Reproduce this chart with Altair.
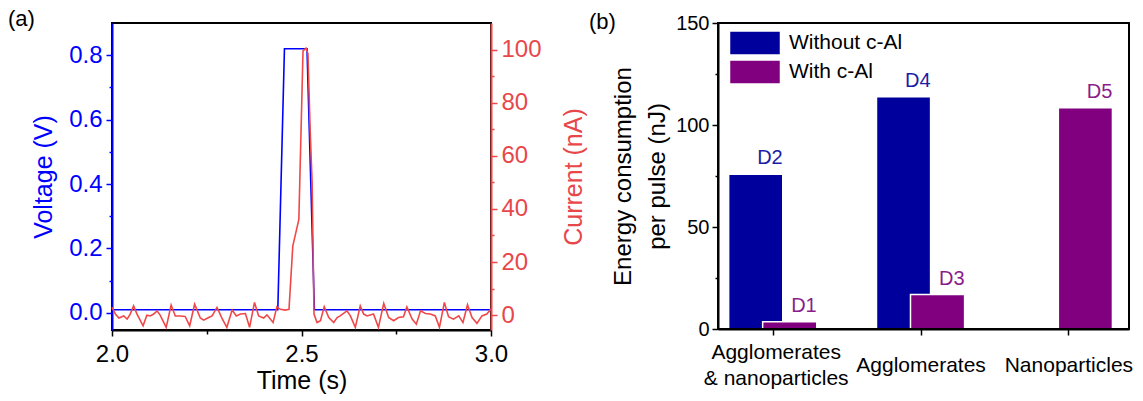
import altair as alt
import pandas as pd

F = "Liberation Sans"
BLUE = "#0000ff"
RED = "#f04848"
RED_TXT = "#e8474a"
NAVY = "#00009c"
PURPLE = "#800080"
NAVY_TXT = "#1c1ca6"
PURPLE_TXT = "#8b1c8b"

# ---------------- panel (a) data ----------------
volt_time = [2.0, 2.4375, 2.455, 2.5145, 2.534, 3.0]
volt_value = [0.01, 0.01, 0.82, 0.82, 0.01, 0.01]

curr_time = [2.000, 2.009, 2.018, 2.031, 2.040, 2.048, 2.057, 2.066, 2.082, 2.092,
             2.101, 2.110, 2.119, 2.127, 2.143, 2.156, 2.167, 2.180, 2.193, 2.205,
             2.218, 2.233, 2.242, 2.255, 2.264, 2.277, 2.290, 2.303, 2.317, 2.328,
             2.339, 2.352, 2.363, 2.376, 2.387, 2.400, 2.409, 2.425, 2.435, 2.444,
             2.457, 2.467, 2.477, 2.493, 2.504, 2.512, 2.517, 2.523, 2.528, 2.533,
             2.541, 2.550, 2.560, 2.572, 2.585, 2.594, 2.602, 2.620, 2.629, 2.642,
             2.655, 2.664, 2.673, 2.690, 2.703, 2.717, 2.730, 2.743, 2.756, 2.769,
             2.778, 2.792, 2.803, 2.814, 2.827, 2.840, 2.853, 2.864, 2.877, 2.888,
             2.901, 2.915, 2.926, 2.938, 2.950, 2.963, 2.976, 2.989, 3.000]
curr_value = [2.9, 0.4, -1.1, -0.3, -1.5, 0.4, 3.5, 0.4, -4.0, 0.0,
              -0.3, 0.4, 1.6, 0.0, -4.6, 3.8, -0.3, -0.3, -0.5, -4.0,
              4.1, -1.1, -1.9, -0.9, -0.3, 2.9, -1.1, -4.6, 1.9, -0.3,
              0.4, 0.6, -4.6, 4.8, -0.3, -1.1, 0.1, -2.8, 3.1, 2.2,
              1.9, 2.2, 26.0, 36.0, 99.5, 100.5, 98.5, 69.0, 50.0, 0.4,
              -2.8, -2.1, 3.2, -0.9, -2.8, -0.9, -0.3, 1.6, -0.3, -4.6,
              3.5, 0.4, -0.3, 0.4, -4.6, 4.4, -0.9, -2.1, -0.9, -0.6,
              3.1, -1.5, -3.4, 1.6, 0.6, 0.4, -0.3, -4.6, 4.8, -0.6,
              -1.5, -0.3, -2.8, 3.9, -0.9, -3.1, -0.3, 0.4, 2.3]

time_ticks = [2.0, 2.25, 2.5, 2.75, 3.0]
volt_ticks = [0.0, 0.1, 0.2, 0.3, 0.4, 0.5, 0.6, 0.7, 0.8]
curr_ticks = [0, 10, 20, 30, 40, 50, 60, 70, 80, 90, 100]

# ---------------- panel (b) data ----------------
cat_labels = ["Agglomerates\n& nanoparticles", "Agglomerates", "Nanoparticles"]
series_names = ["Without c-Al", "With c-Al"]
bar_category = [1, 2, 1, 2, 3]
bar_series = ["Without c-Al", "Without c-Al", "With c-Al", "With c-Al", "With c-Al"]
bar_energy = [75.8, 113.8, 3.5, 16.9, 108.5]
bar_tag = ["D2", "D4", "D1", "D3", "D5"]
energy_ticks = [0, 25, 50, 75, 100, 125, 150]
cat_domain = [0.63, 3.41]
energy_domain = [0, 150]

# ---------------- panel (a) ----------------
dfv = pd.DataFrame({"t": volt_time, "v": volt_value})
dfc = pd.DataFrame({"t": curr_time, "i": curr_value})

x_time = alt.X(
    "t:Q",
    scale=alt.Scale(domain=[2.0, 3.0], nice=False, zero=False),
    axis=alt.Axis(
        values=time_ticks,
        labelExpr="(datum.value == 2.25 || datum.value == 2.75) ? '' : format(datum.value, '.1f')",
        tickSize={"condition": {"test": "datum.value == 2.25 || datum.value == 2.75", "value": 4}, "value": 6},
        labelFontSize=24, labelPadding=6, labelColor="black", labelFlush=False, labelOverlap=False,
        domainColor="black", tickColor="black",
        title="Time (s)", titleFontSize=25, titlePadding=2, titleColor="black",
    ),
)

volt = alt.Chart(dfv).mark_line(color=BLUE, strokeWidth=1.6).encode(
    x=x_time,
    y=alt.Y(
        "v:Q",
        scale=alt.Scale(domain=[-0.053, 0.9], nice=False, zero=False),
        axis=alt.Axis(
            orient="left", values=volt_ticks,
            labelExpr="round(datum.value*10) % 2 == 0 ? format(datum.value, '.1f') : ''",
            tickSize={"condition": {"test": "round(datum.value*10) % 2 == 1", "value": 3}, "value": 6},
            labelFontSize=24, labelPadding=4, labelColor=BLUE, labelOverlap=False,
            domainColor=BLUE, tickColor=BLUE,
            title="Voltage (V)", titleFontSize=25, titleColor=BLUE, titlePadding=12,
        ),
    ),
)

curr = alt.Chart(dfc).mark_line(color=RED, strokeWidth=1.6).encode(
    x=x_time,
    y=alt.Y(
        "i:Q",
        scale=alt.Scale(domain=[-5.6, 110], nice=False, zero=False),
        axis=alt.Axis(
            orient="right", values=curr_ticks,
            labelExpr="datum.value % 20 == 0 ? datum.label : ''",
            tickSize={"condition": {"test": "datum.value % 20 != 0", "value": 3}, "value": 6},
            labelFontSize=24, labelPadding=4, labelColor=RED_TXT, labelOverlap=False,
            domainColor=RED, tickColor=RED,
            title="Current (nA)", titleFontSize=25, titleColor=RED_TXT, titlePadding=20,
            titleAngle=270, titleBaseline="top",
        ),
    ),
)

left = alt.layer(volt, curr).resolve_scale(y="independent").properties(
    width=379, height=307,
    title=alt.TitleParams("(a)", anchor="start", frame="group", fontSize=22, fontWeight="normal",
                          font=F, baseline="top", offset=-8, dx=-104, color="black"),
)

# ---------------- panel (b) ----------------
dfb = pd.DataFrame({"cat": bar_category, "series": bar_series,
                    "energy": bar_energy, "tag": bar_tag})

parts = []
for i, lab in enumerate(cat_labels, start=1):
    lines = lab.split("\n")
    if len(lines) > 1:
        js = "[" + ", ".join("'" + l + "'" for l in lines) + "]"
    else:
        js = "'" + lab + "'"
    parts.append(f"datum.value == {i} ? {js}")
cat_expr = " : ".join(parts) + " : ''"

off_expr = f"(datum.series == '{series_names[0]}' ? -0.115 : 0.115)"
base_b = alt.Chart(dfb).transform_calculate(
    xl=f"datum.cat + {off_expr} - 0.183",
    xr=f"datum.cat + {off_expr} + 0.183",
)

x_cat = alt.X(
    "xl:Q",
    scale=alt.Scale(domain=cat_domain, nice=False, zero=False),
    axis=alt.Axis(
        values=[1, 2, 3], labelExpr=cat_expr, tickSize=6,
        labelPadding={"condition": {"test": "datum.value == 1", "value": 17}, "value": 30},
        labelOffset={"condition": {"test": "datum.value == 1", "value": 3}, "value": 0},
        labelBaseline="middle", labelLineHeight=26, labelFontSize=21, labelColor="black",
        labelFlush=False, labelOverlap=False, labelAngle=0,
        domainColor="black", tickColor="black", title=None,
    ),
)
y_en = alt.Y(
    "energy:Q", stack=None,
    scale=alt.Scale(domain=energy_domain, nice=False),
    axis=alt.Axis(
        values=energy_ticks,
        labelExpr="datum.value % 50 == 0 ? datum.label : ''",
        tickSize={"condition": {"test": "datum.value % 50 != 0", "value": 3}, "value": 6},
        labelFontSize=20, labelPadding=3, labelColor="black", labelOverlap=False,
        domainColor="black", tickColor="black",
        title=["Energy consumption", "per pulse (nJ)"], titleFontSize=24, titleLineHeight=34,
        titlePadding=6, titleColor="black",
    ),
)

bars = base_b.mark_bar(stroke="white", strokeWidth=1.5).encode(
    x=x_cat,
    x2="xr:Q",
    y=y_en,
    y2=alt.datum(0),
    color=alt.Color(
        "series:N",
        scale=alt.Scale(domain=series_names, range=[NAVY, PURPLE]),
        legend=alt.Legend(
            title=None, orient="none", legendX=24, legendY=7, padding=0,
            symbolType="M-2.125,-1H2.125V1H-2.125Z", symbolSize=576,
            symbolStrokeColor="white", symbolStrokeWidth=1.5, symbolOpacity=1,
            labelFontSize=21, labelFont=F, labelColor="black", labelOffset=21, rowPadding=-1,
        ),
    ),
)

tags = base_b.mark_text(align="right", baseline="bottom", dy=-6, fontSize=20, font=F).encode(
    x="xr:Q",
    y="energy:Q",
    text="tag:N",
    color=alt.condition(alt.datum.series == series_names[0], alt.value(NAVY_TXT), alt.value(PURPLE_TXT)),
)

frame = alt.Chart(pd.DataFrame({"k": [0]})).mark_rect(
    fillOpacity=0, stroke="black", strokeWidth=2
).encode(
    x=alt.datum(cat_domain[0]), x2=alt.datum(cat_domain[1]),
    y=alt.datum(energy_domain[0]), y2=alt.datum(energy_domain[1]),
)

right = alt.layer(bars, tags, frame).properties(
    width=411, height=306,
    title=alt.TitleParams("(b)", anchor="start", frame="group", fontSize=22, fontWeight="normal",
                          font=F, baseline="top", offset=-21, dx=-129, color="black"),
)

chart = alt.hconcat(left, right, spacing=0).resolve_legend(color="independent").configure(
    padding={"left": 7, "top": 7, "right": 5, "bottom": 5},
    font=F,
).configure_view(stroke="black", strokeWidth=2).configure_axis(
    grid=False, labelFont=F, titleFont=F, titleFontWeight="normal", domainWidth=2, tickWidth=1.5,
)

chart.save("out.html", embed_options={"renderer": "svg", "actions": False})
